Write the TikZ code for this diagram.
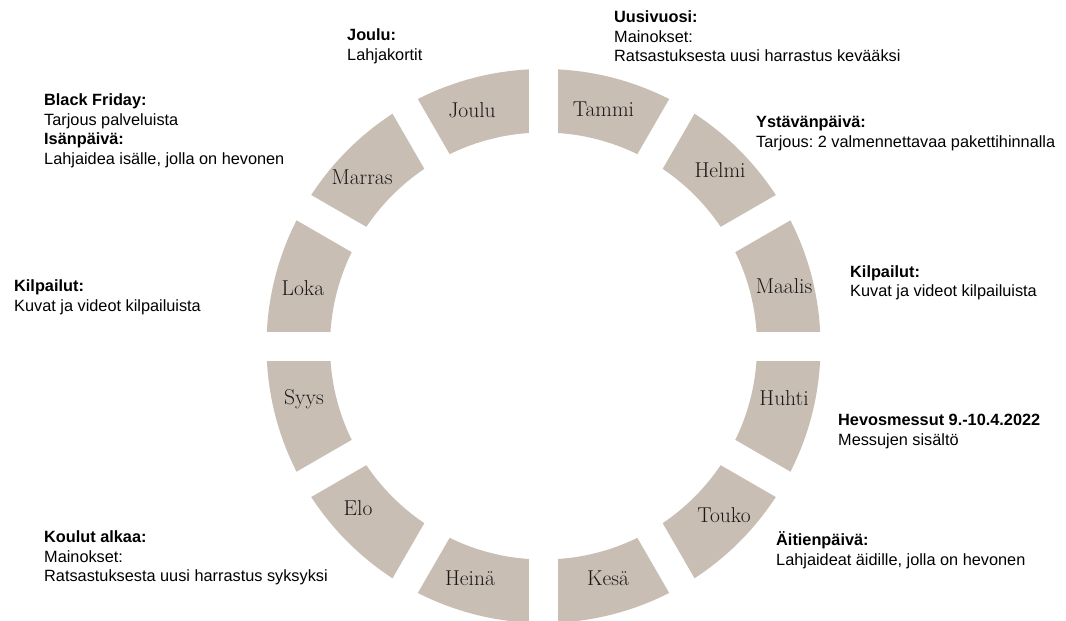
\documentclass[tikz,border=0pt]{standalone}
\usepackage{fontspec}
\usetikzlibrary{calc}
\newfontfamily\notefont{Liberation Sans}
\definecolor{ringfill}{RGB}{200,190,180}
\definecolor{monthtext}{RGB}{28,24,22}
\frenchspacing
\begin{document}
\begin{tikzpicture}[x=1pt,y=1pt,
  month/.style={anchor=base, inner sep=0pt, text=monthtext,
    font=\fontsize{21.5}{22}\selectfont},
  note/.style={anchor=base west, align=left, inner sep=0pt,
    font=\notefont\fontsize{16.3}{19.6}\selectfont}]
\useasboundingbox (0,0) rectangle (1066,-621);
\fill[white] (0,0) rectangle (1066,-621);

% ring of twelve month segments
\coordinate (c) at (543.5,-346);
\fill[ringfill, even odd rule] (c) circle (277) (c) circle (213.5);
\foreach \a in {0,30,...,150}
  \draw[white, line width=29] ($(c)+(\a:300)$) -- ($(c)+(\a+180:300)$);

% month names
\node[month] (tammi)  at (603.5,-116.7) {Tammi};
\node[month] (helmi)  at (720,-177)     {Helmi};
\node[month] (maalis) at (784,-293)     {Maalis};
\node[month] (huhti)  at (784,-405)     {Huhti};
\node[month] (touko)  at (724,-522)     {Touko};
\node[month] (kesa)   at (608,-585)     {Kesä};
\node[month] (heina)  at (470,-585)     {Heinä};
\node[month] (elo)    at (358,-515)     {Elo};
\node[month] (syys)   at (304,-404)     {Syys};
\node[month] (loka)   at (303,-295)     {Loka};
\node[month] (marras) at (362,-184)     {Marras};
\node[month] (joulu)  at (472,-117)     {Joulu};

% campaign notes (positioned by the baseline of their last line)
\node[note] (nJoulu) at (347,-60) {\textbf{Joulu:}\\Lahjakortit};
\node[note] (nTammi) at (614,-61.7) {\textbf{Uusivuosi:}\\Mainokset:\\Ratsastuksesta uusi harrastus kevääksi};
\node[note] (nHelmi) at (756,-147.5) {\textbf{Ystävänpäivä:}\\Tarjous: 2 valmennettavaa pakettihinnalla};
\node[note] (nMarras) at (44,-164.3) {\textbf{Black Friday:}\\Tarjous palveluista\\\textbf{Isänpäivä:}\\Lahjaidea isälle, jolla on hevonen};
\node[note] (nLoka) at (14,-311) {\textbf{Kilpailut:}\\Kuvat ja videot kilpailuista};
\node[note] (nMaalis) at (850,-296.7) {\textbf{Kilpailut:}\\Kuvat ja videot kilpailuista};
\node[note] (nHuhti) at (838,-445) {\textbf{Hevosmessut 9.-10.4.2022}\\Messujen sisältö};
\node[note] (nTouko) at (776,-565) {\textbf{Äitienpäivä:}\\Lahjaideat äidille, jolla on hevonen};
\node[note] (nElo) at (44,-581.7) {\textbf{Koulut alkaa:}\\Mainokset:\\Ratsastuksesta uusi harrastus syksyksi};
\end{tikzpicture}
\end{document}
